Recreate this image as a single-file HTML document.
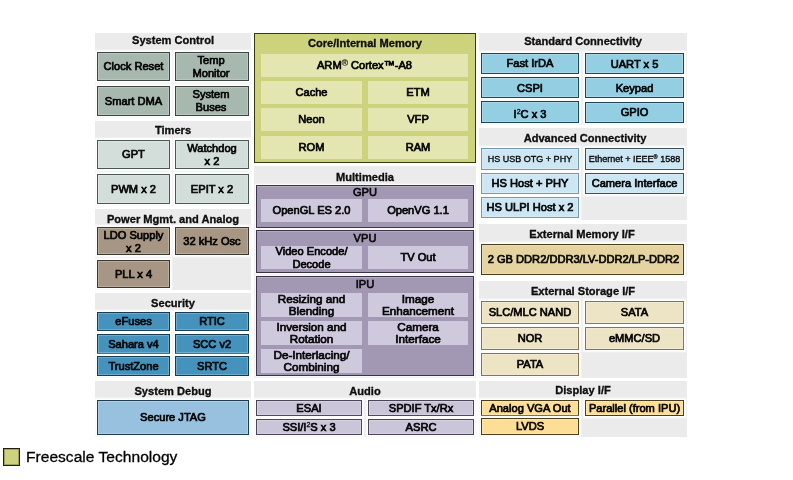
<!DOCTYPE html>
<html><head><meta charset="utf-8"><title>Block Diagram</title>
<style>
html,body{margin:0;padding:0;background:#fff;}
body{width:793px;height:480px;position:relative;overflow:hidden;font-family:"Liberation Sans",sans-serif;color:#111;}
#w{position:absolute;left:0;top:0;width:793px;height:480px;filter:blur(0.4px);}
.p{position:absolute;}
.t{position:absolute;z-index:2;height:17px;line-height:17px;text-align:center;font-weight:bold;font-size:11.1px;white-space:nowrap;color:#111;-webkit-text-stroke:0.3px #000;}
.t.n{font-weight:normal;height:14px;line-height:14px;-webkit-text-stroke-width:0.6px;}
.b{position:absolute;box-sizing:border-box;display:flex;align-items:center;justify-content:center;text-align:center;font-size:11.1px;line-height:13px;white-space:nowrap;color:#111;-webkit-text-stroke:0.7px #000;}
.b span{display:block;position:relative;}
sup{line-height:0;-webkit-text-stroke-width:0;}
sup.r{font-size:8.5px;vertical-align:3px;-webkit-text-stroke-width:0.15px;}
sup.r2{font-size:5.5px;vertical-align:3px;-webkit-text-stroke-width:0.25px;}
sup.s{font-size:7px;vertical-align:4px;-webkit-text-stroke-width:0.3px;}
.lg{position:absolute;font-size:15.6px;line-height:17px;height:17px;white-space:nowrap;color:#000;-webkit-text-stroke:0.3px #000;}
</style></head>
<body>
<div id="w">
<div class="p" style="left:95px;top:33px;width:156px;height:85px;background:#ebebeb;"></div>
<div class="t" style="left:95px;top:32px;width:156px;">System Control</div>
<div class="b" style="left:97px;top:52px;width:73px;height:29px;background:#a7b8af;box-shadow:inset 0 0 0 1px #3c4641,inset 0 0 0 2px rgba(255,255,255,.22),0 0 1.5px 2px #fff;"><span>Clock Reset</span></div>
<div class="b" style="left:175px;top:52px;width:74px;height:29px;background:#a7b8af;box-shadow:inset 0 0 0 1px #3c4641,inset 0 0 0 2px rgba(255,255,255,.22),0 0 1.5px 2px #fff;"><span style="left:-1px;">Temp<br>Monitor</span></div>
<div class="b" style="left:97px;top:86px;width:73px;height:30px;background:#a7b8af;box-shadow:inset 0 0 0 1px #3c4641,inset 0 0 0 2px rgba(255,255,255,.22),0 0 1.5px 2px #fff;"><span>Smart DMA</span></div>
<div class="b" style="left:175px;top:86px;width:74px;height:30px;background:#a7b8af;box-shadow:inset 0 0 0 1px #3c4641,inset 0 0 0 2px rgba(255,255,255,.22),0 0 1.5px 2px #fff;"><span style="left:-1px;">System<br>Buses</span></div>
<div class="p" style="left:95px;top:121px;width:156px;height:85px;background:#ebebeb;"></div>
<div class="t" style="left:95px;top:122px;width:156px;">Timers</div>
<div class="b" style="left:97px;top:140px;width:73px;height:29px;background:#d3dedb;box-shadow:inset 0 0 0 1px #4b5753,inset 0 0 0 2px rgba(255,255,255,.22),0 0 1.5px 2px #fff;"><span>GPT</span></div>
<div class="b" style="left:175px;top:140px;width:74px;height:29px;background:#d3dedb;box-shadow:inset 0 0 0 1px #4b5753,inset 0 0 0 2px rgba(255,255,255,.22),0 0 1.5px 2px #fff;"><span>Watchdog<br>x 2</span></div>
<div class="b" style="left:97px;top:174px;width:73px;height:30px;background:#d3dedb;box-shadow:inset 0 0 0 1px #4b5753,inset 0 0 0 2px rgba(255,255,255,.22),0 0 1.5px 2px #fff;"><span>PWM x 2</span></div>
<div class="b" style="left:175px;top:174px;width:74px;height:30px;background:#d3dedb;box-shadow:inset 0 0 0 1px #4b5753,inset 0 0 0 2px rgba(255,255,255,.22),0 0 1.5px 2px #fff;"><span>EPIT x 2</span></div>
<div class="p" style="left:95px;top:209px;width:156px;height:81px;background:#ebebeb;"></div>
<div class="t" style="left:95px;top:211px;width:156px;">Power Mgmt. and Analog</div>
<div class="b" style="left:97px;top:227px;width:73px;height:28px;background:#a69683;box-shadow:inset 0 0 0 1px #3e3630,inset 0 0 0 2px rgba(255,255,255,.22),0 0 1.5px 2px #fff;"><span style="top:1px;">LDO Supply<br>x 2</span></div>
<div class="b" style="left:175px;top:227px;width:74px;height:28px;background:#a69683;box-shadow:inset 0 0 0 1px #3e3630,inset 0 0 0 2px rgba(255,255,255,.22),0 0 1.5px 2px #fff;"><span>32 kHz Osc</span></div>
<div class="b" style="left:97px;top:260px;width:73px;height:28px;background:#a69683;box-shadow:inset 0 0 0 1px #3e3630,inset 0 0 0 2px rgba(255,255,255,.22),0 0 1.5px 2px #fff;"><span>PLL x 4</span></div>
<div class="p" style="left:95px;top:293px;width:156px;height:85px;background:#ebebeb;"></div>
<div class="t" style="left:95px;top:295px;width:156px;">Security</div>
<div class="b" style="left:97px;top:312px;width:73px;height:19px;background:#4592bd;box-shadow:inset 0 0 0 1px #143d53,inset 0 0 0 2px rgba(255,255,255,.22),0 0 1.5px 2px #fff;"><span>eFuses</span></div>
<div class="b" style="left:175px;top:312px;width:74px;height:19px;background:#4592bd;box-shadow:inset 0 0 0 1px #143d53,inset 0 0 0 2px rgba(255,255,255,.22),0 0 1.5px 2px #fff;"><span>RTIC</span></div>
<div class="b" style="left:97px;top:334px;width:73px;height:20px;background:#4592bd;box-shadow:inset 0 0 0 1px #143d53,inset 0 0 0 2px rgba(255,255,255,.22),0 0 1.5px 2px #fff;"><span>Sahara v4</span></div>
<div class="b" style="left:175px;top:334px;width:74px;height:20px;background:#4592bd;box-shadow:inset 0 0 0 1px #143d53,inset 0 0 0 2px rgba(255,255,255,.22),0 0 1.5px 2px #fff;"><span>SCC v2</span></div>
<div class="b" style="left:97px;top:356px;width:73px;height:20px;background:#4592bd;box-shadow:inset 0 0 0 1px #143d53,inset 0 0 0 2px rgba(255,255,255,.22),0 0 1.5px 2px #fff;"><span>TrustZone</span></div>
<div class="b" style="left:175px;top:356px;width:74px;height:20px;background:#4592bd;box-shadow:inset 0 0 0 1px #143d53,inset 0 0 0 2px rgba(255,255,255,.22),0 0 1.5px 2px #fff;"><span>SRTC</span></div>
<div class="p" style="left:95px;top:381px;width:156px;height:56px;background:#ebebeb;"></div>
<div class="t" style="left:95px;top:383px;width:156px;">System Debug</div>
<div class="b" style="left:97px;top:400px;width:152px;height:35px;background:#98c0df;box-shadow:inset 0 0 0 1px #203c52,inset 0 0 0 2px rgba(255,255,255,.22),0 0 1.5px 2px #fff;"><span>Secure JTAG</span></div>
<div class="p" style="left:254px;top:33px;width:222px;height:130px;background:#ccd37c;box-shadow:inset 0 0 0 1px #363810;"></div>
<div class="t" style="left:254px;top:35px;width:222px;">Core/Internal Memory</div>
<div class="b" style="left:261px;top:54px;width:207px;height:23px;background:#e4e6b2;"><span>ARM<sup class='r'>®</sup> Cortex™-A8</span></div>
<div class="b" style="left:261px;top:81px;width:101px;height:23px;background:#e4e6b2;"><span>Cache</span></div>
<div class="b" style="left:368px;top:81px;width:100px;height:23px;background:#e4e6b2;"><span>ETM</span></div>
<div class="b" style="left:261px;top:108px;width:101px;height:23px;background:#e4e6b2;"><span>Neon</span></div>
<div class="b" style="left:368px;top:108px;width:100px;height:23px;background:#e4e6b2;"><span>VFP</span></div>
<div class="b" style="left:261px;top:136px;width:101px;height:23px;background:#e4e6b2;"><span>ROM</span></div>
<div class="b" style="left:368px;top:136px;width:100px;height:23px;background:#e4e6b2;"><span>RAM</span></div>
<div class="p" style="left:254px;top:166px;width:222px;height:212px;background:#ebebeb;"></div>
<div class="t" style="left:254px;top:169px;width:222px;">Multimedia</div>
<div class="p" style="left:256px;top:185px;width:218px;height:43px;background:#a398b3;box-shadow:inset 0 0 0 1px #3a3349,inset 0 2px 0 0 rgba(255,255,255,.2),0 0 1.5px 1px #fff;"></div>
<div class="t n" style="left:256px;top:185px;width:218px;">GPU</div>
<div class="b" style="left:261px;top:199px;width:101px;height:23px;background:#cfc9dd;"><span>OpenGL ES 2.0</span></div>
<div class="b" style="left:368px;top:199px;width:100px;height:23px;background:#cfc9dd;"><span>OpenVG 1.1</span></div>
<div class="p" style="left:256px;top:230px;width:218px;height:43px;background:#a398b3;box-shadow:inset 0 0 0 1px #3a3349,inset 0 2px 0 0 rgba(255,255,255,.2),0 0 1.5px 1px #fff;"></div>
<div class="t n" style="left:256px;top:231px;width:218px;">VPU</div>
<div class="b" style="left:261px;top:246px;width:101px;height:23px;background:#cfc9dd;"><span>Video Encode/<br>Decode</span></div>
<div class="b" style="left:368px;top:246px;width:100px;height:23px;background:#cfc9dd;"><span>TV Out</span></div>
<div class="p" style="left:256px;top:276px;width:218px;height:100px;background:#a398b3;box-shadow:inset 0 0 0 1px #3a3349,inset 0 2px 0 0 rgba(255,255,255,.2),0 0 1.5px 1px #fff;"></div>
<div class="t n" style="left:256px;top:277px;width:218px;">IPU</div>
<div class="b" style="left:261px;top:293px;width:101px;height:24px;background:#cfc9dd;font-size:11.7px;line-height:12.5px;"><span>Resizing and<br>Blending</span></div>
<div class="b" style="left:368px;top:293px;width:100px;height:24px;background:#cfc9dd;font-size:11.7px;line-height:12.5px;"><span>Image<br>Enhancement</span></div>
<div class="b" style="left:261px;top:321px;width:101px;height:24px;background:#cfc9dd;font-size:11.7px;line-height:12.5px;"><span>Inversion and<br>Rotation</span></div>
<div class="b" style="left:368px;top:321px;width:100px;height:24px;background:#cfc9dd;font-size:11.7px;line-height:12.5px;"><span>Camera<br>Interface</span></div>
<div class="b" style="left:261px;top:349px;width:101px;height:24px;background:#cfc9dd;font-size:11.7px;line-height:12.5px;"><span>De-Interlacing/<br>Combining</span></div>
<div class="p" style="left:254px;top:381px;width:222px;height:56px;background:#ebebeb;"></div>
<div class="t" style="left:254px;top:383px;width:222px;">Audio</div>
<div class="b" style="left:256px;top:400px;width:106px;height:16px;background:#cac5d8;box-shadow:inset 0 0 0 1px #4a4657,inset 0 0 0 2px rgba(255,255,255,.22),0 0 1.5px 2px #fff;"><span>ESAI</span></div>
<div class="b" style="left:368px;top:400px;width:106px;height:16px;background:#cac5d8;box-shadow:inset 0 0 0 1px #4a4657,inset 0 0 0 2px rgba(255,255,255,.22),0 0 1.5px 2px #fff;"><span>SPDIF Tx/Rx</span></div>
<div class="b" style="left:256px;top:419px;width:106px;height:16px;background:#cac5d8;box-shadow:inset 0 0 0 1px #4a4657,inset 0 0 0 2px rgba(255,255,255,.22),0 0 1.5px 2px #fff;"><span>SSI/I<sup class='s'>2</sup>S x 3</span></div>
<div class="b" style="left:368px;top:419px;width:106px;height:16px;background:#cac5d8;box-shadow:inset 0 0 0 1px #4a4657,inset 0 0 0 2px rgba(255,255,255,.22),0 0 1.5px 2px #fff;"><span>ASRC</span></div>
<div class="p" style="left:479px;top:33px;width:208px;height:92px;background:#ebebeb;"></div>
<div class="t" style="left:479px;top:33px;width:208px;">Standard Connectivity</div>
<div class="b" style="left:481px;top:53px;width:98px;height:21px;background:#94cee3;box-shadow:inset 0 0 0 1px #1b4556,inset 0 0 0 2px rgba(255,255,255,.22),0 0 1.5px 2px #fff;"><span>Fast IrDA</span></div>
<div class="b" style="left:585px;top:53px;width:99px;height:21px;background:#94cee3;box-shadow:inset 0 0 0 1px #1b4556,inset 0 0 0 2px rgba(255,255,255,.22),0 0 1.5px 2px #fff;"><span style="top:1px;">UART x 5</span></div>
<div class="b" style="left:481px;top:77px;width:98px;height:21px;background:#94cee3;box-shadow:inset 0 0 0 1px #1b4556,inset 0 0 0 2px rgba(255,255,255,.22),0 0 1.5px 2px #fff;"><span style="top:1px;">CSPI</span></div>
<div class="b" style="left:585px;top:77px;width:99px;height:21px;background:#94cee3;box-shadow:inset 0 0 0 1px #1b4556,inset 0 0 0 2px rgba(255,255,255,.22),0 0 1.5px 2px #fff;"><span style="top:1px;">Keypad</span></div>
<div class="b" style="left:481px;top:101px;width:98px;height:22px;background:#94cee3;box-shadow:inset 0 0 0 1px #1b4556,inset 0 0 0 2px rgba(255,255,255,.22),0 0 1.5px 2px #fff;"><span style="top:2px;">I<sup class='s'>2</sup>C x 3</span></div>
<div class="b" style="left:585px;top:102px;width:99px;height:21px;background:#94cee3;box-shadow:inset 0 0 0 1px #1b4556,inset 0 0 0 2px rgba(255,255,255,.22),0 0 1.5px 2px #fff;"><span>GPIO</span></div>
<div class="p" style="left:479px;top:128px;width:208px;height:92px;background:#ebebeb;"></div>
<div class="t" style="left:481px;top:130px;width:208px;">Advanced Connectivity</div>
<div class="b" style="left:481px;top:148px;width:98px;height:22px;background:#cde6f3;box-shadow:inset 0 0 0 1px #7299b0,inset 0 0 0 2px rgba(255,255,255,.22),0 0 1.5px 2px #fff;font-size:9px;-webkit-text-stroke-width:0.35px;"><span>HS USB OTG + PHY</span></div>
<div class="b" style="left:585px;top:148px;width:99px;height:22px;background:#cde6f3;box-shadow:inset 0 0 0 1px #3f505b,inset 0 0 0 2px rgba(255,255,255,.22),0 0 1.5px 2px #fff;font-size:9px;-webkit-text-stroke-width:0.35px;"><span>Ethernet + IEEE<sup class='r2'>®</sup> 1588</span></div>
<div class="b" style="left:481px;top:173px;width:98px;height:21px;background:#cde6f3;box-shadow:inset 0 0 0 1px #7299b0,inset 0 0 0 2px rgba(255,255,255,.22),0 0 1.5px 2px #fff;"><span>HS Host + PHY</span></div>
<div class="b" style="left:585px;top:173px;width:99px;height:21px;background:#cde6f3;box-shadow:inset 0 0 0 1px #3f505b,inset 0 0 0 2px rgba(255,255,255,.22),0 0 1.5px 2px #fff;"><span>Camera Interface</span></div>
<div class="b" style="left:481px;top:197px;width:98px;height:21px;background:#cde6f3;box-shadow:inset 0 0 0 1px #7299b0,inset 0 0 0 2px rgba(255,255,255,.22),0 0 1.5px 2px #fff;"><span>HS ULPI Host x 2</span></div>
<div class="p" style="left:479px;top:224px;width:208px;height:53px;background:#ebebeb;"></div>
<div class="t" style="left:478px;top:226px;width:208px;">External Memory I/F</div>
<div class="b" style="left:481px;top:244px;width:203px;height:31px;background:#e5d4a0;box-shadow:inset 0 0 0 1px #4a3e1d,inset 0 0 0 2px rgba(255,255,255,.22),0 0 1.5px 2px #fff;"><span style="left:1px;">2 GB DDR2/DDR3/LV-DDR2/LP-DDR2</span></div>
<div class="p" style="left:479px;top:281px;width:208px;height:97px;background:#ebebeb;"></div>
<div class="t" style="left:479px;top:283px;width:208px;">External Storage I/F</div>
<div class="b" style="left:481px;top:301px;width:98px;height:23px;background:#ede4c5;box-shadow:inset 0 0 0 1px #82764f,inset 0 0 0 2px rgba(255,255,255,.22),0 0 1.5px 2px #fff;"><span>SLC/MLC NAND</span></div>
<div class="b" style="left:585px;top:301px;width:99px;height:23px;background:#ede4c5;box-shadow:inset 0 0 0 1px #82764f,inset 0 0 0 2px rgba(255,255,255,.22),0 0 1.5px 2px #fff;"><span>SATA</span></div>
<div class="b" style="left:481px;top:327px;width:98px;height:23px;background:#ede4c5;box-shadow:inset 0 0 0 1px #82764f,inset 0 0 0 2px rgba(255,255,255,.22),0 0 1.5px 2px #fff;"><span>NOR</span></div>
<div class="b" style="left:585px;top:327px;width:99px;height:23px;background:#ede4c5;box-shadow:inset 0 0 0 1px #82764f,inset 0 0 0 2px rgba(255,255,255,.22),0 0 1.5px 2px #fff;"><span>eMMC/SD</span></div>
<div class="b" style="left:481px;top:353px;width:98px;height:23px;background:#ede4c5;box-shadow:inset 0 0 0 1px #82764f,inset 0 0 0 2px rgba(255,255,255,.22),0 0 1.5px 2px #fff;"><span>PATA</span></div>
<div class="p" style="left:479px;top:381px;width:208px;height:56px;background:#ebebeb;"></div>
<div class="t" style="left:479px;top:382px;width:208px;">Display I/F</div>
<div class="b" style="left:481px;top:400px;width:98px;height:16px;background:#fdde97;box-shadow:inset 0 0 0 1px #4a3e1d,inset 0 0 0 2px rgba(255,255,255,.22),0 0 1.5px 2px #fff;"><span>Analog VGA Out</span></div>
<div class="b" style="left:585px;top:400px;width:99px;height:16px;background:#fdde97;box-shadow:inset 0 0 0 1px #4a3e1d,inset 0 0 0 2px rgba(255,255,255,.22),0 0 1.5px 2px #fff;"><span>Parallel (from IPU)</span></div>
<div class="b" style="left:481px;top:418px;width:98px;height:17px;background:#fdde97;box-shadow:inset 0 0 0 1px #4a3e1d,inset 0 0 0 2px rgba(255,255,255,.22),0 0 1.5px 2px #fff;"><span>LVDS</span></div>
<div class="p" style="left:3px;top:448px;width:17px;height:18px;background:#ced27e;box-shadow:inset 0 0 0 1px #1e1f0c,inset 0 0 0 2px rgba(70,72,30,.35);"></div>
<div class="lg" style="left:26px;top:448.5px;transform:scaleY(0.9);transform-origin:0 0;">Freescale Technology</div>
</div>
</body></html>
